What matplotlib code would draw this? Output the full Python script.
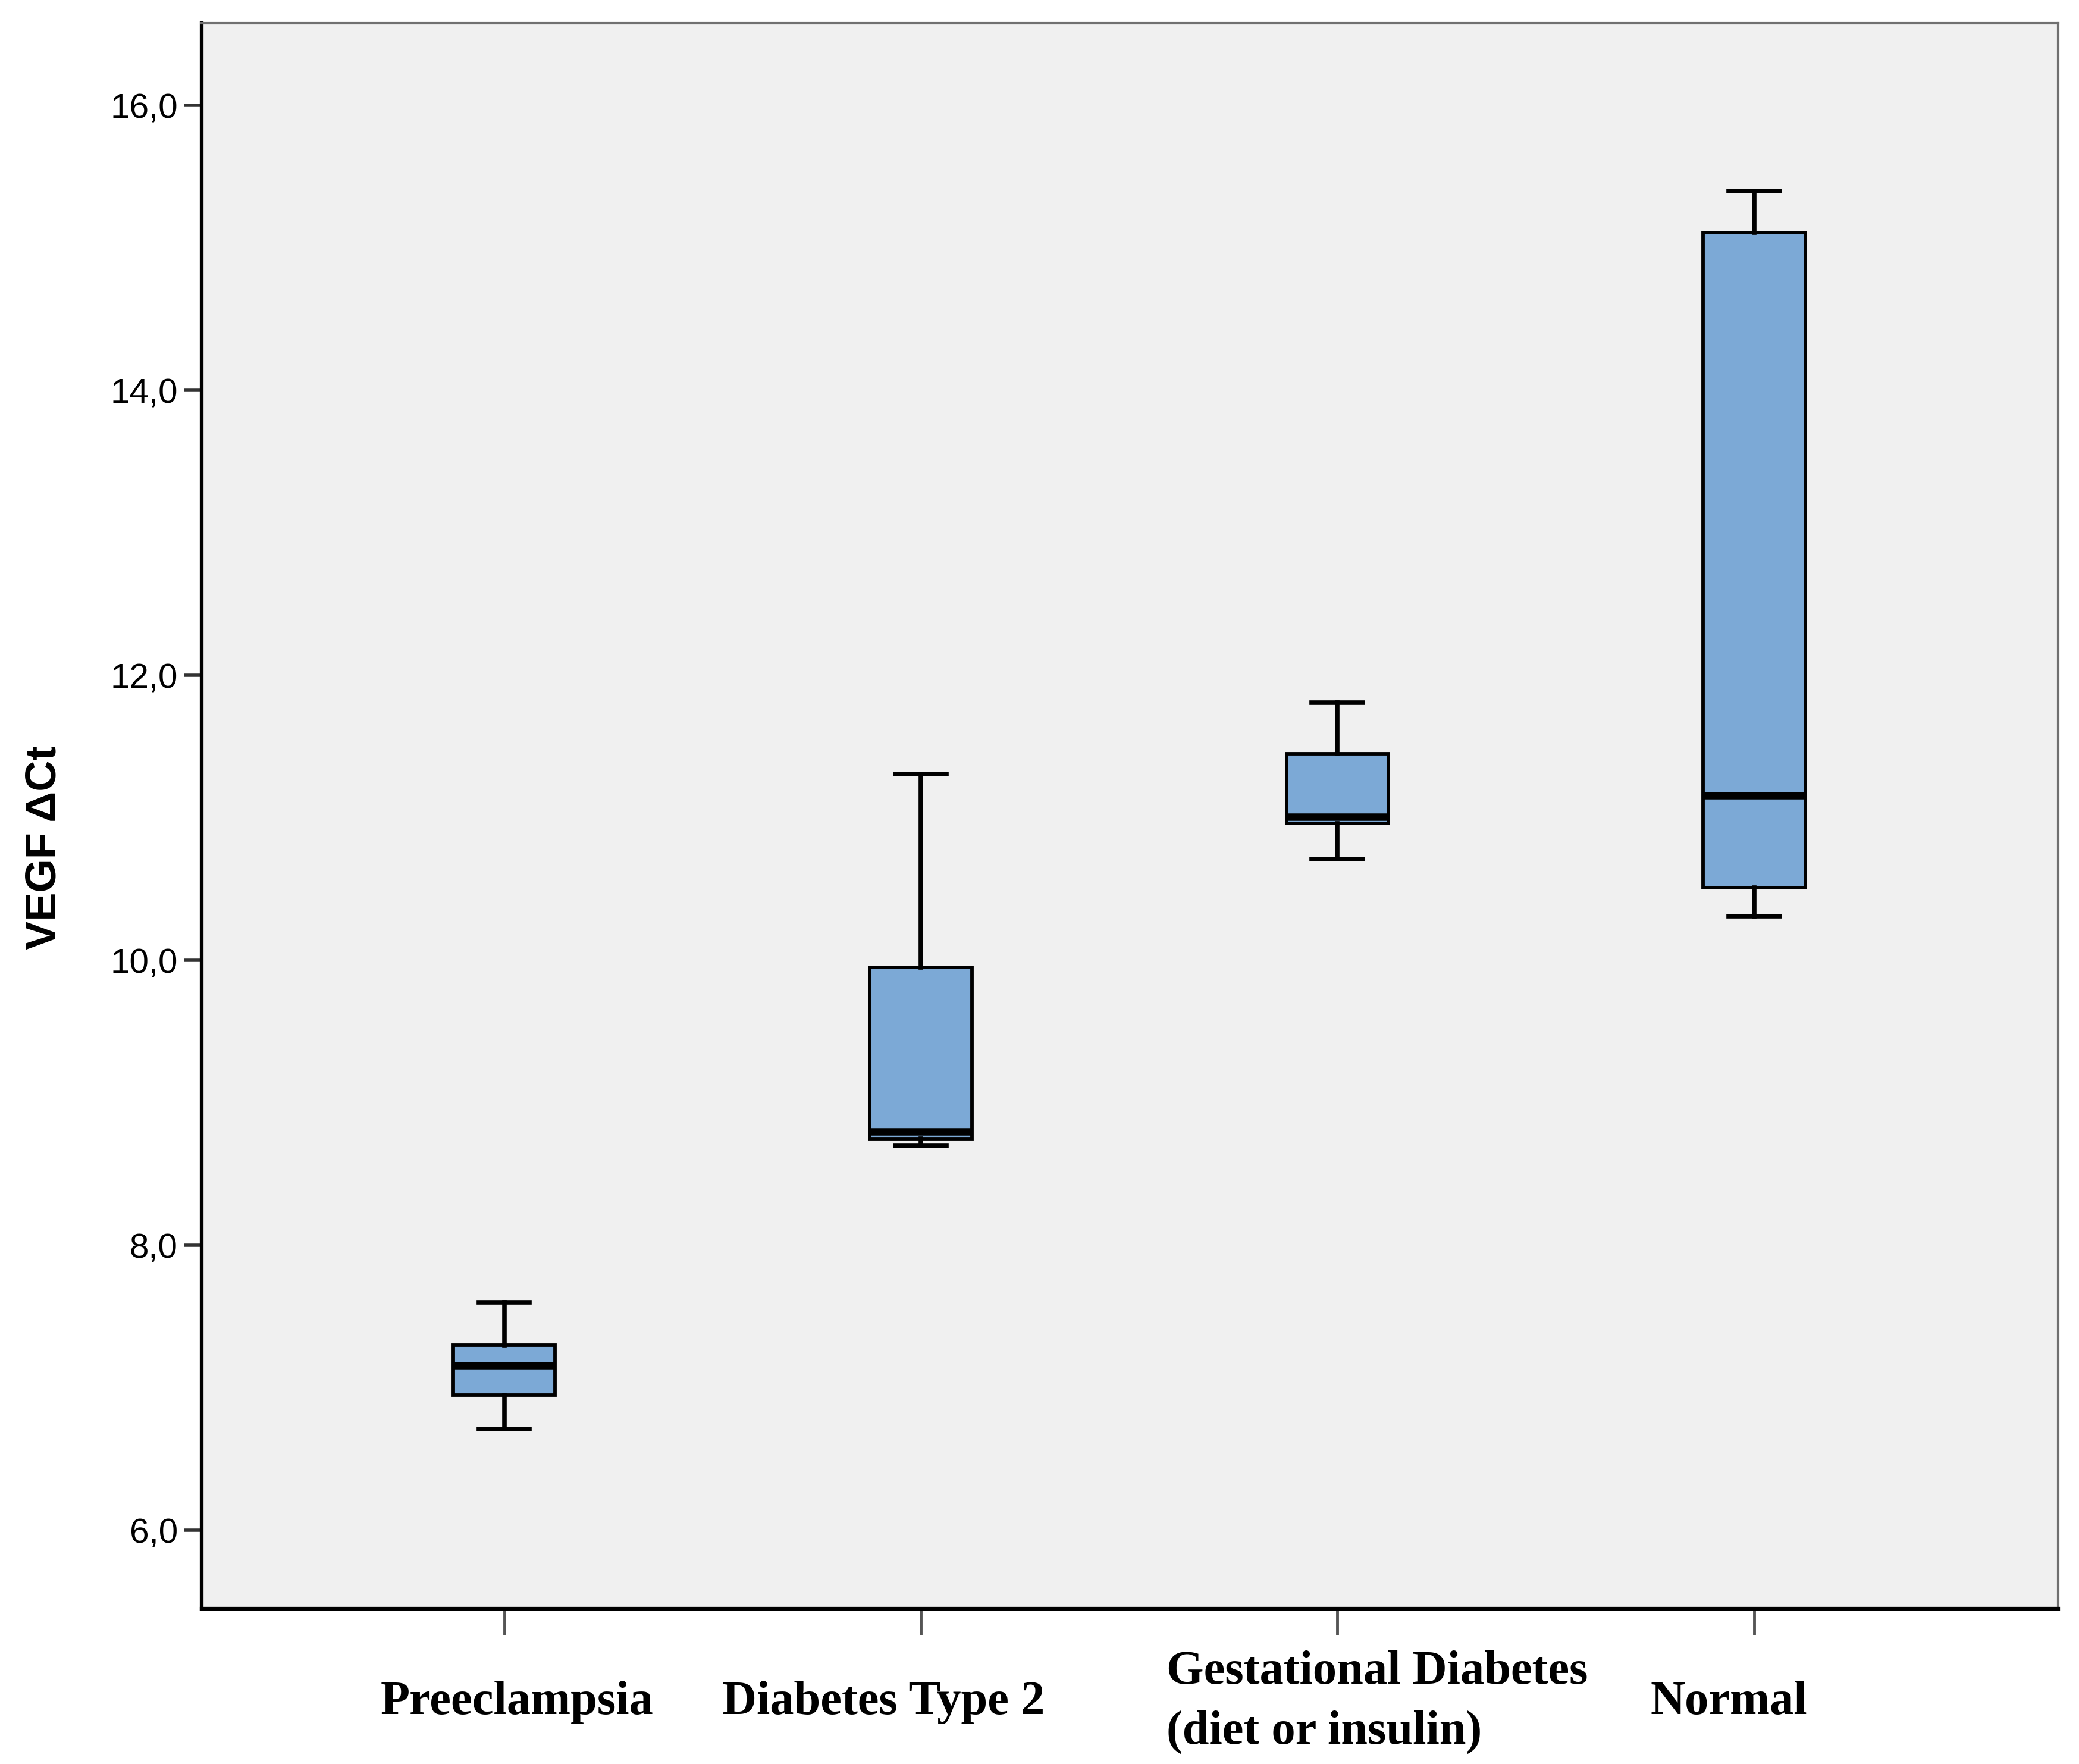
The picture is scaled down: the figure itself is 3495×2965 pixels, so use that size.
import matplotlib
matplotlib.use('Agg')
import matplotlib.pyplot as plt
import matplotlib.transforms as mtransforms

# group labels and five-number summaries
groups = ['Preeclampsia', 'Diabetes Type 2', 'Gestational Diabetes\n(diet or insulin)', 'Normal']
whisker_low = [6.71, 8.70, 10.71, 10.31]
q1 = [6.95, 8.75, 10.96, 10.51]
median = [7.16, 8.80, 11.01, 11.16]
q3 = [7.30, 9.95, 11.45, 15.11]
whisker_high = [7.60, 11.31, 11.81, 15.40]
y_ticks = [6.0, 8.0, 10.0, 12.0, 14.0, 16.0]

box_color = '#7CA9D6'
bg_color = '#F0F0F0'

stats = []
for i in range(len(groups)):
    stats.append({
        'whislo': whisker_low[i], 'q1': q1[i], 'med': median[i],
        'q3': q3[i], 'whishi': whisker_high[i], 'fliers': [],
    })

fig = plt.figure(figsize=(34.95, 29.65), dpi=100)
ax = fig.add_axes([0.097, 0.088, 0.893, 0.899])
ax.set_facecolor(bg_color)

positions = list(range(1, len(groups) + 1))
ax.bxp(stats, positions=positions, widths=0.245, patch_artist=True,
       showfliers=False,
       boxprops=dict(facecolor=box_color, edgecolor='black', linewidth=4.2),
       medianprops=dict(color='black', linewidth=9),
       whiskerprops=dict(color='black', linewidth=5.5),
       capprops=dict(color='black', linewidth=5.5))

ax.set_xlim(0.274, 4.73)
ax.set_ylim(5.45, 16.58)

ax.set_yticks(y_ticks)
ax.set_yticklabels([('%.1f' % v).replace('.', ',') for v in y_ticks],
                   fontsize=42, family='Liberation Sans')
ax.tick_params(axis='y', direction='out', length=21, width=4, color='#333333', pad=8)
ax.tick_params(axis='x', direction='out', length=32, width=3.5, color='#555555')
ax.set_xticks(positions)
ax.set_xticklabels([''] * len(groups))

# category labels, placed under each tick like the original figure
trans = mtransforms.blended_transform_factory(ax.transData, fig.transFigure)
label_dx = [0.03, -0.09, -0.41, -0.06]
label_ha = ['center', 'center', 'left', 'center']
label_y = [0.035, 0.035, 0.035, 0.035]
for i, g in enumerate(groups):
    ax.text(positions[i] + label_dx[i], label_y[i], g, transform=trans,
            ha=label_ha[i], va='center', fontsize=58, fontweight='bold',
            family='Liberation Serif', linespacing=1.5)

ax.set_ylabel('VEGF ΔCt', fontsize=52, fontweight='bold', family='Liberation Sans')
ax.yaxis.set_label_coords(-0.074, 0.48)

for side in ['left', 'bottom']:
    ax.spines[side].set_color('black')
    ax.spines[side].set_linewidth(4.5)
for side in ['top', 'right']:
    ax.spines[side].set_color('#707070')
    ax.spines[side].set_linewidth(3)

fig.savefig('out.png', dpi=100, facecolor='white')
